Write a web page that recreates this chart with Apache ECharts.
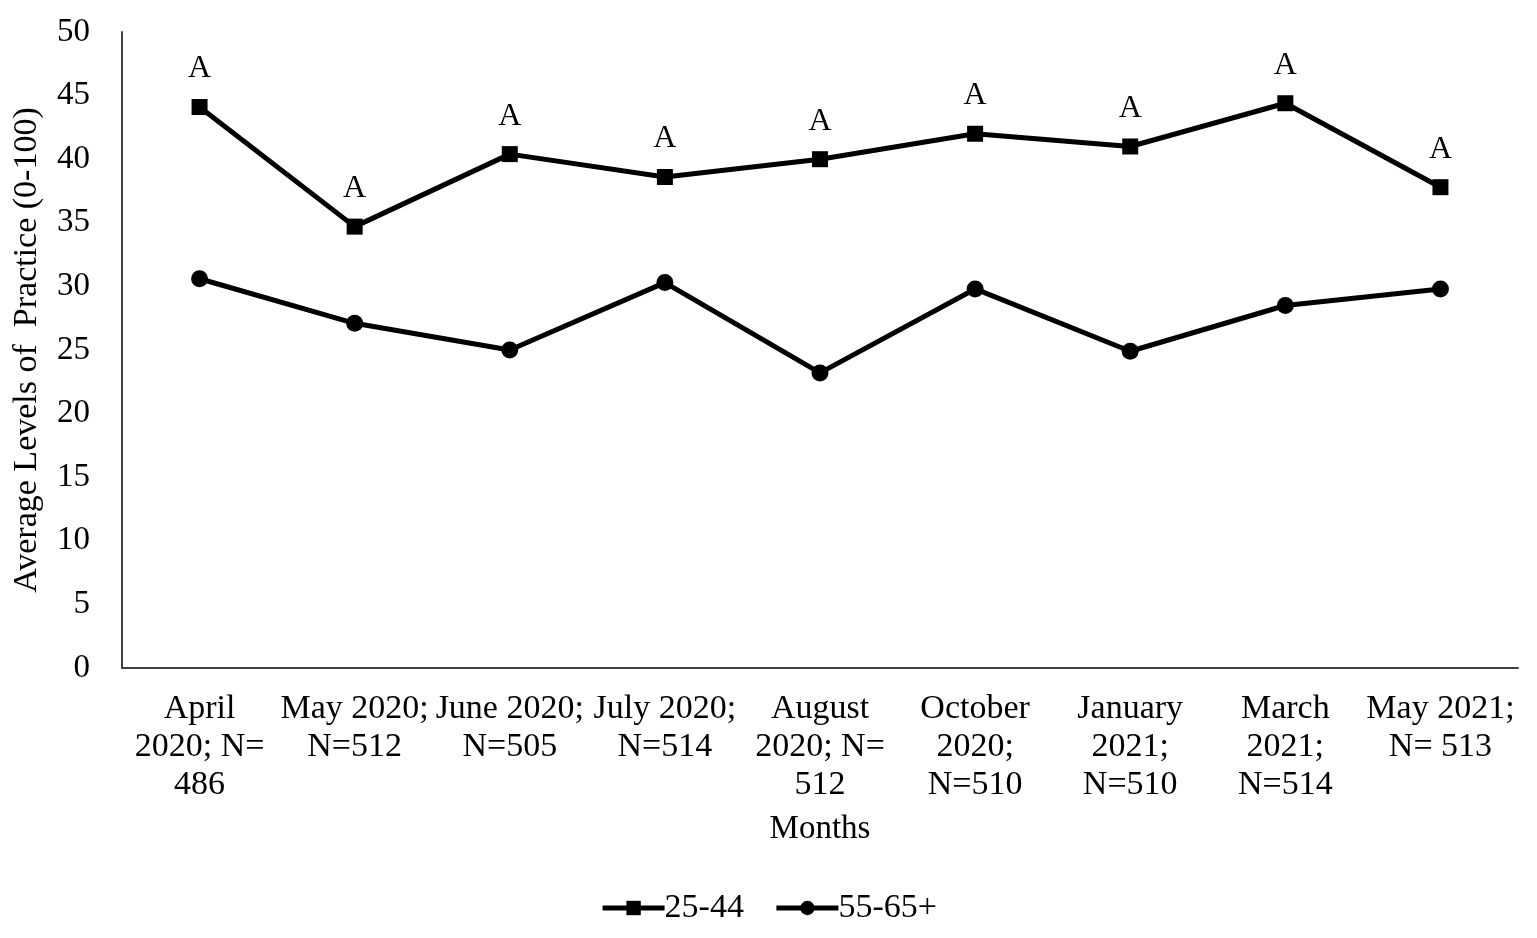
<!DOCTYPE html>
<html>
<head>
<meta charset="utf-8">
<script src="https://cdn.jsdelivr.net/npm/echarts@6/dist/echarts.min.js"></script>
<style>
  html, body { margin: 0; padding: 0; background: #fff; }
  #chart { width: 1537px; height: 938px; }
</style>
</head>
<body>
<div id="chart"></div>
<script>
// months with sample size
var months = [
  'April\n2020; N=\n486',
  'May 2020;\nN=512',
  'June 2020;\nN=505',
  'July 2020;\nN=514',
  'August\n2020; N=\n512',
  'October\n2020;\nN=510',
  'January\n2021;\nN=510',
  'March\n2021;\nN=514',
  'May 2021;\nN= 513'
];
var age2544 = [44.1, 34.7, 40.4, 38.6, 40.0, 42.0, 41.0, 44.4, 37.8];
var age5565 = [30.6, 27.1, 25.0, 30.3, 23.2, 29.8, 24.9, 28.5, 29.8];
var sigLabel = 'A';

var FONT = '"Liberation Serif", "Times New Roman", serif';

var chart = echarts.init(document.getElementById('chart'));

var option = {
  backgroundColor: '#fff',
  textStyle: { fontFamily: FONT, color: '#000' },
  grid: {
    left: 122,
    right: 19,
    top: 32,
    bottom: 270
  },
  legend: {
    data: ['25-44', '55-65+'],
    bottom: 8,
    left: 'center',
    itemWidth: 62,
    itemHeight: 18,
    itemGap: 30,
    lineStyle: { width: 5 },
    textStyle: { fontFamily: FONT, fontSize: 34, color: '#000', padding: [0, 0, 0, -5] }
  },
  xAxis: {
    type: 'category',
    data: months,
    name: 'Months',
    nameLocation: 'middle',
    nameGap: 145,
    nameTextStyle: { fontFamily: FONT, fontSize: 33, color: '#000' },
    axisLine: { lineStyle: { color: '#404040', width: 2 } },
    axisTick: { show: false },
    axisLabel: {
      interval: 0,
      margin: 22,
      fontFamily: FONT,
      fontSize: 34,
      lineHeight: 38,
      color: '#000'
    }
  },
  yAxis: {
    type: 'value',
    min: 0,
    max: 50,
    interval: 5,
    name: 'Average Levels of  Practice (0-100)',
    nameLocation: 'middle',
    nameGap: 78,
    nameTextStyle: { fontFamily: FONT, fontSize: 34, color: '#000' },
    axisLine: { show: true, lineStyle: { color: '#404040', width: 2 } },
    axisTick: { show: false },
    splitLine: { show: false },
    axisLabel: {
      margin: 32,
      fontFamily: FONT,
      fontSize: 33,
      color: '#000'
    }
  },
  series: [
    {
      name: '25-44',
      type: 'line',
      data: age2544,
      symbol: 'rect',
      symbolSize: 16,
      lineStyle: { color: '#000', width: 5 },
      itemStyle: { color: '#000' },
      label: {
        show: true,
        position: 'top',
        distance: 14,
        formatter: sigLabel,
        fontFamily: FONT,
        fontSize: 32,
        color: '#000'
      },
      animation: false
    },
    {
      name: '55-65+',
      type: 'line',
      data: age5565,
      symbol: 'circle',
      symbolSize: 17,
      lineStyle: { color: '#000', width: 5 },
      itemStyle: { color: '#000' },
      animation: false
    }
  ]
};

chart.setOption(option);
</script>
</body>
</html>
